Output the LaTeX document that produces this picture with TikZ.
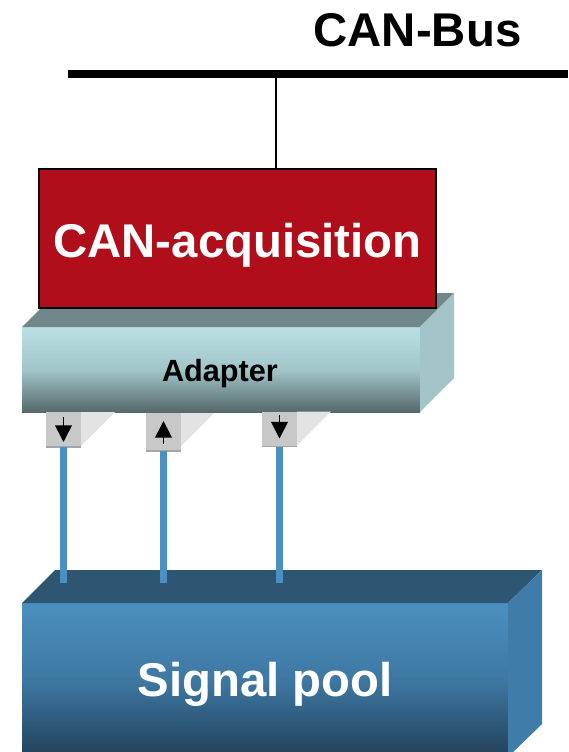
\documentclass[tikz,border=0pt]{standalone}
\usepackage{fontspec}
\setmainfont{Liberation Sans}
\usetikzlibrary{arrows.meta,calc}

\definecolor{canred}{RGB}{176,14,26}
\definecolor{adtop}{RGB}{113,135,137}
\definecolor{adside}{RGB}{163,197,200}
\definecolor{adhi}{RGB}{186,224,227}
\definecolor{admid}{RGB}{160,198,201}
\definecolor{adlo}{RGB}{85,104,106}
\definecolor{portface}{RGB}{200,200,200}
\definecolor{portside}{RGB}{227,227,227}
\definecolor{portedge}{RGB}{165,165,165}
\definecolor{wire}{RGB}{74,144,194}
\definecolor{pooltop}{RGB}{46,86,115}
\definecolor{poolside}{RGB}{64,124,168}
\definecolor{poolhi}{RGB}{74,144,192}
\definecolor{poolmid}{RGB}{62,120,162}
\definecolor{poollo}{RGB}{34,64,90}

\tikzset{every picture/.style={line width=0.75pt}}
\tikzset{
  facebox/.style={inner sep=0pt, outer sep=0pt},
  portbox/.style={facebox, fill=portface, minimum width=26.25pt, minimum height=26.25pt},
  portarrow/.style={line width=1.3pt, -{Triangle[width=12.5pt,length=12.5pt]}},
  wireline/.style={draw=wire, line width=5.25pt},
  bigtext/.style={font=\fontsize{35.5}{42}\bfseries, anchor=base}
}

\begin{document}
\begin{tikzpicture}[x=0.75pt,y=0.75pt,yscale=-1,xscale=1]
	\useasboundingbox (0,0) rectangle (568,752);

	%Straight Lines: bus
	\coordinate (busw) at (68,74);
	\coordinate (buse) at (568,74);
	\coordinate (tap) at (276,74);
	\draw [line width=6pt] (busw) -- (buse) ;
	% Text Node
	\node [bigtext] (buslabel) at (417.5,47) {CAN-Bus};

	%Shape: Cube - adapter
	\node [facebox, top color=adhi, bottom color=adlo, middle color=admid, minimum width=298.5pt, minimum height=63.75pt] (adapter) at (221,369.5) {};
	\fill [adtop] (adapter.north west) -- ++(34,-34) -- ($(adapter.north east)+(34,-34)$) -- (adapter.north east) -- cycle ;
	\fill [adside] (adapter.north east) -- ++(34,-34) -- ($(adapter.south east)+(34,-34)$) -- (adapter.south east) -- cycle ;

	%Shape: Rectangle - acquisition box
	\node [facebox, draw=black, line width=1.5pt, fill=canred, minimum width=297.75pt, minimum height=104.25pt] (can) at (237.5,238.5) {};
	%Straight Lines: tap to bus
	\draw [line width=1.1pt] (tap) -- (tap |- can.north) ;

	% Text Node
	\node [bigtext, white] (canlabel) at (237.5,257) {CAN-acquisition};
	% Text Node
	\node [font=\fontsize{23}{28}\bfseries, anchor=base] (adlabel) at (220,381.7) {Adapter};

	%Shape: Ports
	\node [portbox] (p1) at (63.5,429.5) {};
	\node [portbox, minimum height=28.5pt] (p2) at (163.5,432) {};
	\node [portbox] (p3) at (279.5,429) {};
	\fill [portside] (p1.north east) -- ++(34,0) -- ++(-34,34) -- cycle ;
	\fill [portside] (p2.north east) -- ++(33,0) -- ++(-33,33) -- cycle ;
	\fill [portside] (p3.north east) -- ++(34,0) -- ++(-34,34) -- cycle ;
	\draw [portedge, line width=1.2pt] (p1.south west) -- (p1.south east) ;
	\draw [portedge, line width=1.2pt] (p2.south west) -- (p2.south east) ;
	\draw [portedge, line width=1.2pt] (p3.south west) -- (p3.south east) ;
	%Straight Lines: port arrows
	\draw [portarrow] ($(p1.north)+(0,5)$) -- ($(p1.south)+(0,-5)$) ;
	\draw [portarrow] ($(p2.south)+(0,-7)$) -- ($(p2.north)+(0,8)$) ;
	\draw [portarrow] ($(p3.north)+(0,3)$) -- ($(p3.south)+(0,-8)$) ;

	%Shape: Cube - signal pool
	\node [facebox, top color=poolhi, bottom color=poollo, middle color=poolmid, minimum width=364.5pt, minimum height=115.5pt] (pool) at (265,680) {};
	\fill [pooltop] (pool.north west) -- ++(33,-33) -- ($(pool.north east)+(34,-33)$) -- (pool.north east) -- cycle ;
	\fill [poolside] (pool.north east) -- ++(34,-33) -- ($(pool.south east)+(34,-33)$) -- (pool.south east) -- cycle ;
	% Text Node
	\node [bigtext, white] (poollabel) at (265,696) {Signal pool};

	%Straight Lines: wires
	\coordinate (drop) at (0,583);
	\draw [wireline] (p1.south) -- (p1.south |- drop) ;
	\draw [wireline] (p2.south) -- (p2.south |- drop) ;
	\draw [wireline] (p3.south) -- (p3.south |- drop) ;

\end{tikzpicture}
\end{document}
